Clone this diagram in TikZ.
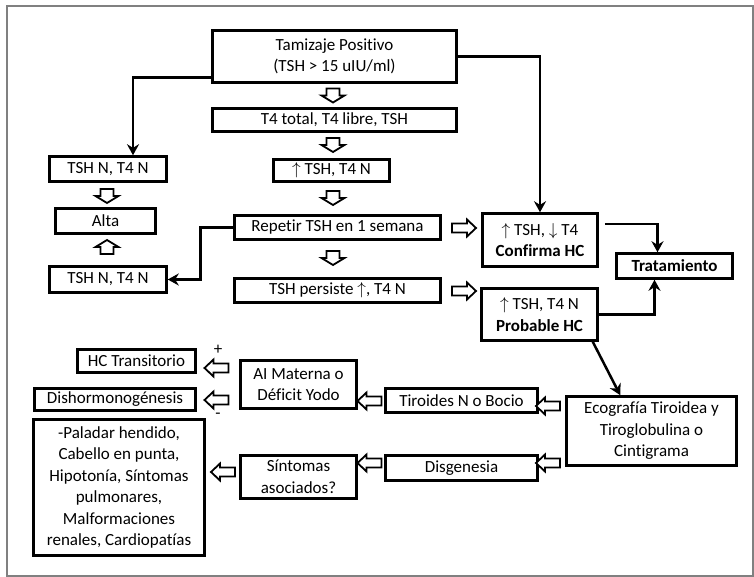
\documentclass[tikz,border=0pt]{standalone}
\usepackage{fontspec}
\setmainfont{Carlito}[Ligatures=NoCommon]
\usetikzlibrary{arrows.meta, positioning, calc}

\tikzset{
  box/.style={draw, line width=2.5pt, inner sep=1pt, align=center,
    font=\fontsize{17}{21.5}\selectfont},
  conn/.style={line width=2.5pt, -{Stealth[length=11pt,width=12pt]}},
  fatarrow/.pic={\draw[line width=1.8pt, fill=white, line join=miter]
    (-7,-6.5) -- (0,-6.5) -- (0,-11.5) -- (7,0) -- (0,11.5) -- (0,6.5) -- (-7,6.5) -- cycle;},
  longarrow/.pic={\draw[line width=1.8pt, fill=white, line join=miter]
    (-12,-4.5) -- (3,-4.5) -- (3,-8.5) -- (12,0) -- (3,8.5) -- (3,4.5) -- (-12,4.5) -- cycle;}
}

\begin{document}
\begin{tikzpicture}[x=1pt, y=-1pt]
        \useasboundingbox (0,0) rectangle (754,577);
        \draw[gray, line width=1.5pt] (7,6) rectangle (753,576);

        % Main column
        \node[box, minimum width=244pt, minimum height=52pt] (tam) at (334.5,56.5) {Tamizaje Positivo\\(TSH > 15 uIU/ml)};
        \node[box, minimum width=244pt, minimum height=23pt] (t4) at (334.5,120) {T4 total, T4 libre, TSH};
        \node[box, minimum width=116pt, minimum height=22pt] (tshup) at (331.5,170.5) {$\uparrow$ TSH, T4 N};
        \node[box, minimum width=206pt, minimum height=24pt] (rep) at (337.5,227.5) {Repetir TSH en 1 semana};
        \node[box, minimum width=206pt, minimum height=24pt] (pers) at (337.5,290.5) {TSH persiste $\uparrow$, T4 N};

        % Left column
        \node[box, minimum width=117pt, minimum height=25pt] (nA) at (108,169) {TSH N, T4 N};
        \node[box, minimum width=100pt, minimum height=25pt] (alta) at (105.5,221) {Alta};
        \node[box, minimum width=117pt, minimum height=26pt] (nB) at (108,279.5) {TSH N, T4 N};

        % Right column
        \node[box, minimum width=115pt, minimum height=53pt] (conf) at (540,240) {$\uparrow$ TSH, $\downarrow$ T4\\\textbf{Confirma HC}};
        \node[box, minimum width=116pt, minimum height=25pt] (trat) at (674.5,266) {\textbf{Tratamiento}};
        \node[box, minimum width=116pt, minimum height=52pt] (prob) at (539.5,314.5) {$\uparrow$ TSH, T4 N\\\textbf{Probable HC}};
        \node[box, minimum width=170pt, minimum height=69pt] (eco) at (651.5,431) {Ecografía Tiroidea y\\Tiroglobulina o\\Cintigrama};

        % Lower part
        \node[box, minimum width=152pt, minimum height=24pt] (tir) at (461.5,400.5) {Tiroides N o Bocio};
        \node[box, minimum width=152pt, minimum height=25pt] (disg) at (461.5,468) {Disgenesia};
        \node[box, minimum width=116pt, minimum height=48pt] (aim) at (298.5,384.5) {AI Materna o\\Déficit Yodo};
        \node[box, minimum width=116pt, minimum height=43pt] (sint) at (298.5,477) {Síntomas\\asociados?};
        \node[box, minimum width=118pt, minimum height=23pt] (hct) at (136.5,361) {HC Transitorio};
        \node[box, minimum width=161pt, minimum height=22pt] (dish) at (115,399.5) {Dishormonogénesis};
        \node[box, minimum width=171pt, minimum height=136pt] (pal) at (119,487.5) {-Paladar hendido,\\Cabello en punta,\\Hipotonía, Síntomas\\pulmonares,\\Malformaciones\\renales, Cardiopatías};

        \node[font=\fontsize{17}{20}\selectfont] (plus) at (218,350) {+};
        \node[font=\fontsize{17}{20}\selectfont] (minus) at (218,416) {-};

        % Hollow arrows
        \pic[rotate=-90] at (333,95.5) {fatarrow};
        \pic[rotate=-90] at (333,145) {fatarrow};
        \pic[rotate=-90] at (333,198) {fatarrow};
        \pic[rotate=-90] at (333,258) {fatarrow};
        \pic[rotate=-90] at (107,196) {fatarrow};
        \pic[rotate=90] at (107,247) {fatarrow};
        \pic at (464,228) {longarrow};
        \pic at (464,291) {longarrow};
        \pic[rotate=180] at (548,406) {longarrow};
        \pic[rotate=180] at (548,463) {longarrow};
        \pic[rotate=180] at (369.5,401) {longarrow};
        \pic[rotate=180] at (369.5,463) {longarrow};
        \pic[rotate=180] at (216.5,368) {longarrow};
        \pic[rotate=180] at (216.5,400) {longarrow};
        \pic[rotate=180] at (223,472) {longarrow};

        % Connectors
        \draw[conn] ($(tam.south west)+(0,-6)$) -| ($(nA.north)+(25,0)$);
        \draw[conn] (tam.east) -| (conf.north);
        \draw[conn] (rep.west) -- ++(-33,0) |- (nB.east);
        \draw[conn] ($(conf.north east)+(6,12)$) -| ($(trat.north)+(-17,0)$);
        \draw[conn] (prob.east) -| ($(trat.south)+(-20,0)$);
        \draw[conn] ($(prob.south east)+(-6,0)$) -- ($(eco.north west)+(55,0)$);
\end{tikzpicture}
\end{document}
